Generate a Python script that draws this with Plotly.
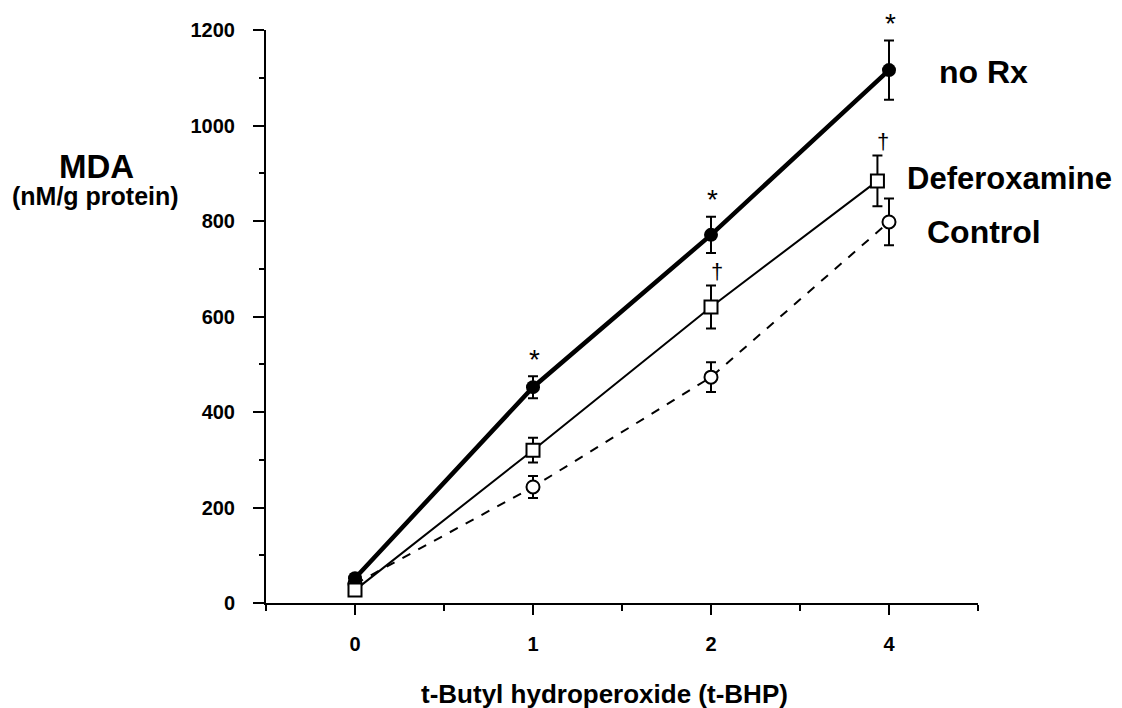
import plotly.graph_objects as go

# ---- data ----
dose_labels = ["0", "1", "2", "4"]
dose_index = [0, 1, 2, 3]

norx_mean = [52, 452, 771, 1116]
norx_err = [8, 23, 38, 62]

defer_mean = [27, 320, 620, 884]
defer_err = [6, 26, 45, 53]

control_mean = [40, 243, 473, 798]
control_err = [6, 23, 31, 49]

norx_sig = ["", "*", "*", "*"]
defer_sig = ["", "", "†", "†"]

y_ticks = [0, 200, 400, 600, 800, 1000, 1200]

# small horizontal dodge of the Deferoxamine marker at the last dose (style)
defer_dodge = [0, 0, 0, -0.065]
defer_x = [i + d for i, d in zip(dose_index, defer_dodge)]

FONT = "Liberation Sans, Arial, Helvetica, sans-serif"

fig = go.Figure()

err_style = dict(type="data", thickness=2, width=5, color="black")

fig.add_trace(go.Scatter(
    x=dose_index, y=control_mean, mode="lines+markers", name="Control",
    line=dict(color="black", width=2, dash="dash"),
    marker=dict(symbol="circle", size=13, color="white", line=dict(color="black", width=2)),
    error_y=dict(array=control_err, **err_style), cliponaxis=False,
))
fig.add_trace(go.Scatter(
    x=dose_index, y=norx_mean, mode="lines+markers", name="no Rx",
    line=dict(color="black", width=4.5),
    marker=dict(symbol="circle", size=14, color="black"),
    error_y=dict(array=norx_err, **err_style), cliponaxis=False,
))
fig.add_trace(go.Scatter(
    x=defer_x, y=defer_mean, mode="lines+markers", name="Deferoxamine",
    line=dict(color="black", width=2),
    marker=dict(symbol="square", size=13, color="white", line=dict(color="black", width=2)),
    error_y=dict(array=defer_err, **err_style), cliponaxis=False,
))

# significance symbols
for i, s in enumerate(norx_sig):
    if s:
        fig.add_annotation(x=dose_index[i], y=norx_mean[i] + norx_err[i], text=s,
                           showarrow=False, yshift=17, xshift=1,
                           font=dict(family=FONT, size=28, color="black"))
for i, s in enumerate(defer_sig):
    if s:
        fig.add_annotation(x=defer_x[i], y=defer_mean[i] + defer_err[i], text=s,
                           showarrow=False, yshift=14, xshift=6,
                           font=dict(family=FONT, size=22, color="black"))

# series labels
lab_font = dict(family=FONT, size=32, color="black", weight="bold")
fig.add_annotation(x=3, y=norx_mean[3], text="no Rx", showarrow=False,
                   xanchor="left", xshift=48, yshift=-2, font=lab_font)
fig.add_annotation(x=3, y=defer_mean[3], text="Deferoxamine", showarrow=False,
                   xanchor="left", xshift=16, yshift=2,
                   font=dict(family=FONT, size=31, color="black", weight="bold"))
fig.add_annotation(x=3, y=control_mean[3], text="Control", showarrow=False,
                   xanchor="left", xshift=36, yshift=-10, font=lab_font)

# y-axis title
fig.add_annotation(xref="paper", yref="paper", x=-0.2374, y=0.762, text="MDA",
                   xanchor="center", yanchor="middle", showarrow=False,
                   font=dict(family=FONT, size=33, color="black", weight="bold"))
fig.add_annotation(xref="paper", yref="paper", x=-0.2388, y=0.710, text="(nM/g protein)",
                   xanchor="center", yanchor="middle", showarrow=False,
                   font=dict(family=FONT, size=25, color="black", weight="bold"))

# x-axis title
fig.add_annotation(xref="paper", yref="paper", x=0.476, y=-0.159, text="t-Butyl hydroperoxide (t-BHP)",
                   xanchor="center", yanchor="middle", showarrow=False,
                   font=dict(family=FONT, size=26, color="black", weight="bold"))

fig.update_layout(
    width=1122, height=708,
    margin=dict(l=258, r=152, t=22, b=113),
    paper_bgcolor="white", plot_bgcolor="white",
    showlegend=False,
    font=dict(family=FONT, color="black"),
)
fig.update_xaxes(
    range=[-0.5, 3.5], tickvals=dose_index, ticktext=dose_labels,
    showline=True, linecolor="black", linewidth=2, zeroline=False, showgrid=False,
    ticks="outside", ticklen=10, tickwidth=2, tickcolor="black", ticklabelstandoff=12,
    tickfont=dict(family=FONT, size=20, color="black", weight="bold"),
    minor=dict(tickvals=[-0.5, 0.5, 1.5, 2.5, 3.5], ticks="outside", ticklen=6,
               tickwidth=1.5, tickcolor="black", showgrid=False),
)
fig.update_yaxes(
    range=[0, 1200], tickvals=y_ticks,
    showline=True, linecolor="black", linewidth=2, zeroline=False, showgrid=False,
    ticks="outside", ticklen=11, tickwidth=1.5, tickcolor="black", ticklabelstandoff=14,
    tickfont=dict(family=FONT, size=20, color="black", weight="bold"),
    minor=dict(dtick=100, ticks="outside", ticklen=5, tickwidth=1.5, tickcolor="black", showgrid=False),
)

fig.write_html("out.html")
